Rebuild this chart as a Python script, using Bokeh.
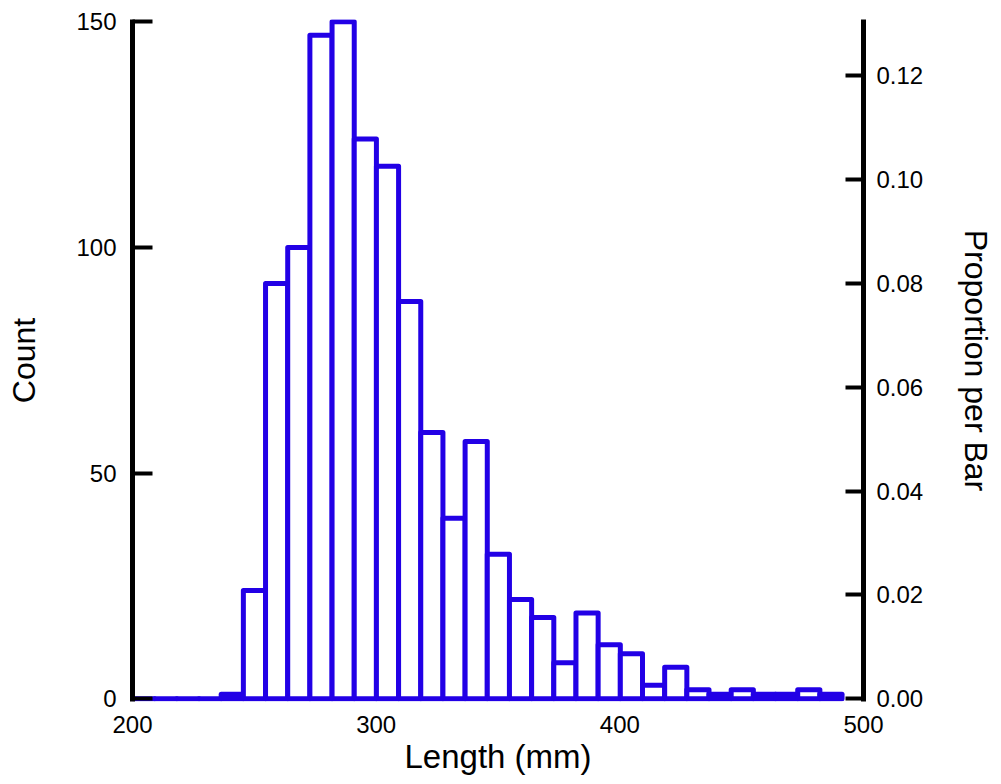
from bokeh.plotting import figure
from bokeh.models import Range1d, LinearAxis, FixedTicker, PrintfTickFormatter
from bokeh.embed import file_html
from bokeh.resources import INLINE

# ---- data ----
bin_edges = [200.0, 209.1, 218.2, 227.3, 236.4, 245.5, 254.6, 263.7, 272.8, 281.9,
             291.0, 300.1, 309.2, 318.3, 327.4, 336.5, 345.6, 354.7, 363.8, 372.9,
             382.0, 391.1, 400.2, 409.3, 418.4, 427.5, 436.6, 445.7, 454.8, 463.9,
             473.0, 482.1, 491.2]
counts = [0, 0, 0, 0, 1, 24, 92, 100, 147, 150, 124, 118, 88, 59, 40, 57, 32, 22,
          18, 8, 19, 12, 10, 3, 7, 2, 1, 2, 1, 1, 2, 1]
total_n = 1150
x_ticks = [200, 300, 400, 500]
count_ticks = [0, 50, 100, 150]
prop_ticks = [0.0, 0.02, 0.04, 0.06, 0.08, 0.10, 0.12]

BLUE = "#2200E6"
FONT = "Liberation Sans"

y_lo, y_hi = -0.6, 150.5

p = figure(width=1000, height=783, output_backend="svg", toolbar_location=None,
           x_range=Range1d(200, 500), y_range=Range1d(y_lo, y_hi),
           min_border_left=132, min_border_right=137, min_border_top=19,
           min_border_bottom=82)
p.outline_line_color = None
p.grid.visible = False
p.background_fill_color = "white"
p.border_fill_color = "white"

p.quad(left=bin_edges[:-1], right=bin_edges[1:], bottom=0, top=counts,
       fill_color="white", line_color=BLUE, line_width=5, line_join="round")

# x axis
xa = p.xaxis[0]
xa.ticker = FixedTicker(ticks=x_ticks)
xa.axis_line_color = None
xa.major_tick_line_color = None
xa.minor_tick_line_color = None
xa.major_label_standoff = 8
xa.major_label_text_font = FONT
xa.major_label_text_font_size = "24px"
xa.major_label_text_color = "black"
xa.axis_label = "Length (mm)"
xa.axis_label_text_font = FONT
xa.axis_label_text_font_size = "33px"
xa.axis_label_text_font_style = "normal"
xa.axis_label_text_color = "black"
xa.axis_label_standoff = 2

# left axis
ya = p.yaxis[0]
ya.ticker = FixedTicker(ticks=count_ticks)
ya.axis_line_width = 5
ya.axis_line_color = "black"
ya.major_tick_in = 20
ya.major_tick_out = 0
ya.major_tick_line_width = 4
ya.major_tick_line_color = "black"
ya.minor_tick_line_color = None
ya.major_label_standoff = 16
ya.major_label_text_font = FONT
ya.major_label_text_font_size = "24px"
ya.major_label_text_color = "black"
ya.axis_label = "Count"
ya.axis_label_text_font = FONT
ya.axis_label_text_font_size = "32px"
ya.axis_label_text_font_style = "normal"
ya.axis_label_text_color = "black"
ya.axis_label_standoff = 31

# right axis (proportion)
p.extra_y_ranges = {"prop": Range1d(y_lo / total_n, y_hi / total_n)}
ra = LinearAxis(y_range_name="prop")
ra.ticker = FixedTicker(ticks=prop_ticks)
ra.formatter = PrintfTickFormatter(format="%.2f")
ra.axis_line_width = 5
ra.axis_line_color = "black"
ra.major_tick_in = 18
ra.major_tick_out = 0
ra.major_tick_line_width = 4
ra.major_tick_line_color = "black"
ra.minor_tick_line_color = None
ra.major_label_standoff = 13
ra.major_label_text_font = FONT
ra.major_label_text_font_size = "24px"
ra.major_label_text_color = "black"
ra.axis_label = "Proportion per Bar"
ra.axis_label_text_font = FONT
ra.axis_label_text_font_size = "32px"
ra.axis_label_text_font_style = "normal"
ra.axis_label_text_color = "black"
ra.axis_label_standoff = 32
p.add_layout(ra, "right")

open("out.html", "w").write(file_html(p, INLINE))
